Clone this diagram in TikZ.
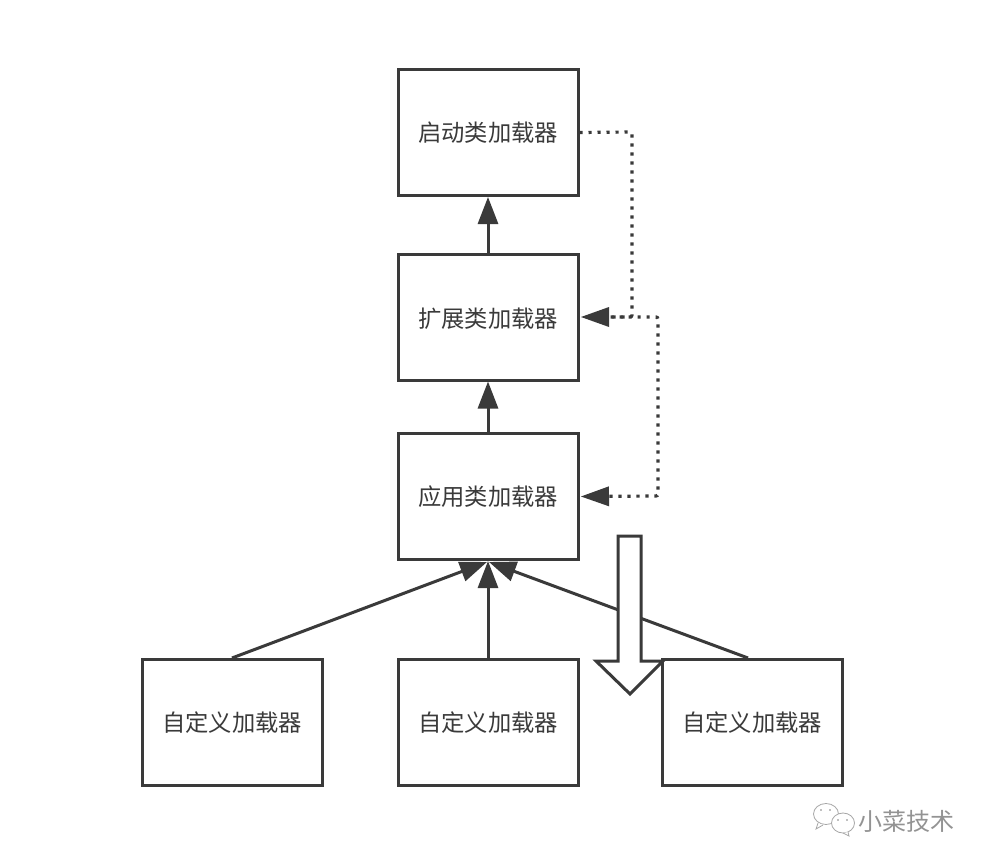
\documentclass[tikz,border=0pt]{standalone}
\usepackage{fontspec}
\setmainfont{Noto Sans CJK SC}
\usetikzlibrary{arrows.meta}
\definecolor{ink}{HTML}{3A3A3A}
\tikzset{
  x=1pt,y=-1pt,
  loader/.style={draw=ink,line width=3pt,fill=white,minimum height=126pt,inner sep=0pt,text=ink,font=\fontsize{23.3}{26}\selectfont},
  wide/.style={loader,minimum width=180pt},
  inherit/.style={draw=ink,line width=3pt,-{Triangle[length=27pt,width=20pt]}},
  delegate/.style={draw=ink,line width=3.2pt,dash pattern=on 3.2pt off 5.8pt,rounded corners=2pt,-{Triangle[length=28pt,width=20pt,line width=0pt,fill=ink]}},
  bigarrow/.style={draw=ink,line width=3pt,fill=white,line join=miter},
  bubble/.style={draw=gray!70,line width=0.8pt,fill=white}
}
\begin{document}
\begin{tikzpicture}
\useasboundingbox (0,0) rectangle (986,864);
\fill[white] (0,0) rectangle (986,864);
\node[wide] (boot) at (488,132.5) {启动类加载器};
\node[wide] (ext) at (488,317) {\raisebox{-2pt}[\height][\depth]{扩展类加载器}};
\node[wide] (app) at (488,496.5) {应用类加载器};
\node[wide] (custL) at (232,722.5) {自定义加载器};
\node[wide] (custM) at (488,722.5) {自定义加载器};
\node[wide] (custR) at (752,722.5) {自定义加载器};
% solid inheritance
\draw[inherit] (ext.north) -- (boot.south);
\draw[inherit] (app.north) -- (ext.south);
\draw[inherit] (custM.north) -- (app.south);
\draw[inherit] (custL.north) -- ([xshift=-1pt,yshift=-1pt]app.south);
\draw[inherit] ([xshift=-4pt]custR.north) -- ([xshift=1pt,yshift=-1pt]app.south);
% dotted delegation
\coordinate (bend1) at (632,132);
\coordinate (bend2) at (632,317);
\coordinate (bend3) at (658,317);
\coordinate (bend4) at (658,496);
\draw[delegate] (boot.east) -- (bend1) -- (bend2) -- ([xshift=1.5pt]ext.east);
\draw[delegate] ([xshift=31pt]ext.east) -- (bend3) -- (bend4) -- ([xshift=1.5pt]app.east);
% big hollow arrow
\draw[bigarrow] (618,536) -- (641,536) -- (641,661) -- (663,661) -- (630,694) -- (596,661) -- (618,661) -- cycle;
% watermark
\draw[bubble] (826,814) ellipse (12.5pt and 10.5pt);
\draw[bubble] (818,823) -- (816,829) -- (823,825);
\draw[bubble] (843,823) ellipse (11.5pt and 10pt);
\draw[bubble] (848,832) -- (849,836) -- (843,833);
\fill[gray] (821,810) circle (0.9pt) (830,810) circle (0.9pt) (838,820) circle (0.9pt) (847,820) circle (0.9pt);
\node[text=gray!85,font=\fontsize{24}{26}\selectfont,anchor=west,inner sep=0pt] (wm) at (858,821) {小菜技术};
\end{tikzpicture}
\end{document}
